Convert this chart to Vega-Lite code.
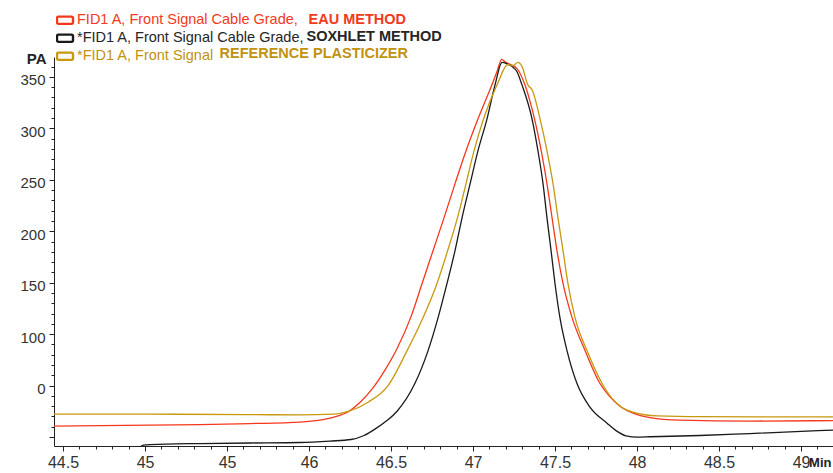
{
  "$schema": "https://vega.github.io/schema/vega-lite/v6.json",
  "width": 779,
  "height": 389,
  "autosize": "none",
  "padding": {"left": 54, "top": 57, "right": 0, "bottom": 27},
  "background": "white",
  "config": {
    "view": {"stroke": null},
    "font": "Liberation Sans",
    "axis": {"grid": false, "domainColor": "#222", "tickColor": "#222", "labelColor": "#333", "labelFont": "Liberation Sans", "titleFont": "Liberation Sans", "titleColor": "#222"},
    "legend": {"labelFont": "Liberation Sans", "labelFontSize": 14.5, "labelLimit": 400, "title": null}
  },
  "datasets": {
    "curves": [
      {"s": "EAU", "t": 44.445, "pa": 10.6},
      {"s": "EAU", "t": 44.726, "pa": 11.1},
      {"s": "EAU", "t": 45.03, "pa": 11.6},
      {"s": "EAU", "t": 45.335, "pa": 12.1},
      {"s": "EAU", "t": 45.64, "pa": 13.1},
      {"s": "EAU", "t": 45.945, "pa": 14.5},
      {"s": "EAU", "t": 46.067, "pa": 16.4},
      {"s": "EAU", "t": 46.152, "pa": 19.3},
      {"s": "EAU", "t": 46.244, "pa": 25.1},
      {"s": "EAU", "t": 46.31, "pa": 33.5},
      {"s": "EAU", "t": 46.384, "pa": 46.5},
      {"s": "EAU", "t": 46.463, "pa": 65},
      {"s": "EAU", "t": 46.537, "pa": 86},
      {"s": "EAU", "t": 46.622, "pa": 117},
      {"s": "EAU", "t": 46.689, "pa": 149},
      {"s": "EAU", "t": 46.756, "pa": 181},
      {"s": "EAU", "t": 46.823, "pa": 213},
      {"s": "EAU", "t": 46.89, "pa": 246},
      {"s": "EAU", "t": 46.957, "pa": 278},
      {"s": "EAU", "t": 47.03, "pa": 309},
      {"s": "EAU", "t": 47.122, "pa": 345},
      {"s": "EAU", "t": 47.146, "pa": 355},
      {"s": "EAU", "t": 47.175, "pa": 367},
      {"s": "EAU", "t": 47.195, "pa": 364.6},
      {"s": "EAU", "t": 47.268, "pa": 358},
      {"s": "EAU", "t": 47.317, "pa": 342},
      {"s": "EAU", "t": 47.348, "pa": 326},
      {"s": "EAU", "t": 47.396, "pa": 294},
      {"s": "EAU", "t": 47.451, "pa": 246},
      {"s": "EAU", "t": 47.482, "pa": 213},
      {"s": "EAU", "t": 47.512, "pa": 181},
      {"s": "EAU", "t": 47.549, "pa": 149},
      {"s": "EAU", "t": 47.604, "pa": 116},
      {"s": "EAU", "t": 47.683, "pa": 84},
      {"s": "EAU", "t": 47.774, "pa": 52},
      {"s": "EAU", "t": 47.83, "pa": 40},
      {"s": "EAU", "t": 47.896, "pa": 30},
      {"s": "EAU", "t": 47.976, "pa": 23.2},
      {"s": "EAU", "t": 48.079, "pa": 18.9},
      {"s": "EAU", "t": 48.262, "pa": 16.4},
      {"s": "EAU", "t": 48.689, "pa": 15.5},
      {"s": "EAU", "t": 49.195, "pa": 16.0},

      {"s": "SOX", "t": 44.9, "pa": -30},
      {"s": "SOX", "t": 44.99, "pa": -7.9},
      {"s": "SOX", "t": 45.03, "pa": -7.3},
      {"s": "SOX", "t": 45.335, "pa": -6.3},
      {"s": "SOX", "t": 45.64, "pa": -5.8},
      {"s": "SOX", "t": 45.945, "pa": -5.3},
      {"s": "SOX", "t": 46.128, "pa": -3.9},
      {"s": "SOX", "t": 46.256, "pa": -2.4},
      {"s": "SOX", "t": 46.335, "pa": 1.5},
      {"s": "SOX", "t": 46.402, "pa": 7.7},
      {"s": "SOX", "t": 46.475, "pa": 16},
      {"s": "SOX", "t": 46.537, "pa": 25.1},
      {"s": "SOX", "t": 46.646, "pa": 52.2},
      {"s": "SOX", "t": 46.726, "pa": 84},
      {"s": "SOX", "t": 46.787, "pa": 116},
      {"s": "SOX", "t": 46.841, "pa": 149},
      {"s": "SOX", "t": 46.89, "pa": 181},
      {"s": "SOX", "t": 46.933, "pa": 213},
      {"s": "SOX", "t": 46.982, "pa": 246},
      {"s": "SOX", "t": 47.03, "pa": 278},
      {"s": "SOX", "t": 47.085, "pa": 309},
      {"s": "SOX", "t": 47.134, "pa": 342},
      {"s": "SOX", "t": 47.177, "pa": 364},
      {"s": "SOX", "t": 47.207, "pa": 362.7},
      {"s": "SOX", "t": 47.238, "pa": 360},
      {"s": "SOX", "t": 47.268, "pa": 355},
      {"s": "SOX", "t": 47.299, "pa": 342},
      {"s": "SOX", "t": 47.36, "pa": 309},
      {"s": "SOX", "t": 47.396, "pa": 278},
      {"s": "SOX", "t": 47.427, "pa": 246},
      {"s": "SOX", "t": 47.451, "pa": 213},
      {"s": "SOX", "t": 47.476, "pa": 181},
      {"s": "SOX", "t": 47.5, "pa": 149},
      {"s": "SOX", "t": 47.53, "pa": 116},
      {"s": "SOX", "t": 47.573, "pa": 84},
      {"s": "SOX", "t": 47.634, "pa": 52},
      {"s": "SOX", "t": 47.713, "pa": 29},
      {"s": "SOX", "t": 47.817, "pa": 13.5},
      {"s": "SOX", "t": 47.87, "pa": 6.5},
      {"s": "SOX", "t": 47.933, "pa": 1.2},
      {"s": "SOX", "t": 48.0, "pa": 0},
      {"s": "SOX", "t": 48.079, "pa": 0.3},
      {"s": "SOX", "t": 48.384, "pa": 1.5},
      {"s": "SOX", "t": 48.689, "pa": 3.4},
      {"s": "SOX", "t": 49.195, "pa": 6.8},

      {"s": "REF", "t": 44.445, "pa": 22.2},
      {"s": "REF", "t": 45.03, "pa": 22.2},
      {"s": "REF", "t": 45.64, "pa": 21.8},
      {"s": "REF", "t": 45.945, "pa": 21.5},
      {"s": "REF", "t": 46.152, "pa": 22.2},
      {"s": "REF", "t": 46.244, "pa": 25.1},
      {"s": "REF", "t": 46.36, "pa": 33.8},
      {"s": "REF", "t": 46.482, "pa": 50},
      {"s": "REF", "t": 46.598, "pa": 84},
      {"s": "REF", "t": 46.695, "pa": 116},
      {"s": "REF", "t": 46.78, "pa": 149},
      {"s": "REF", "t": 46.845, "pa": 181},
      {"s": "REF", "t": 46.905, "pa": 213},
      {"s": "REF", "t": 46.957, "pa": 246},
      {"s": "REF", "t": 47.006, "pa": 278},
      {"s": "REF", "t": 47.064, "pa": 309},
      {"s": "REF", "t": 47.146, "pa": 342},
      {"s": "REF", "t": 47.213, "pa": 362},
      {"s": "REF", "t": 47.244, "pa": 361},
      {"s": "REF", "t": 47.274, "pa": 364},
      {"s": "REF", "t": 47.299, "pa": 360},
      {"s": "REF", "t": 47.335, "pa": 342},
      {"s": "REF", "t": 47.36, "pa": 337.5},
      {"s": "REF", "t": 47.409, "pa": 309},
      {"s": "REF", "t": 47.451, "pa": 278},
      {"s": "REF", "t": 47.488, "pa": 246},
      {"s": "REF", "t": 47.518, "pa": 213},
      {"s": "REF", "t": 47.549, "pa": 181},
      {"s": "REF", "t": 47.579, "pa": 149},
      {"s": "REF", "t": 47.622, "pa": 116},
      {"s": "REF", "t": 47.695, "pa": 84},
      {"s": "REF", "t": 47.787, "pa": 52},
      {"s": "REF", "t": 47.845, "pa": 38},
      {"s": "REF", "t": 47.906, "pa": 29},
      {"s": "REF", "t": 47.976, "pa": 24.2},
      {"s": "REF", "t": 48.122, "pa": 20.5},
      {"s": "REF", "t": 48.384, "pa": 19.8},
      {"s": "REF", "t": 49.195, "pa": 19.6}
    ]
  },
  "layer": [
    {
      "data": {"name": "curves"},
      "mark": {"type": "line", "strokeWidth": 1.3, "clip": true, "interpolate": "monotone"},
      "encoding": {
        "x": {
          "field": "t", "type": "quantitative",
          "scale": {"domain": [44.445, 49.195], "nice": false, "zero": false},
          "axis": {
            "values": [44.5,44.6,44.7,44.8,44.9,45.0,45.1,45.2,45.3,45.4,45.5,45.6,45.7,45.8,45.9,46.0,46.1,46.2,46.3,46.4,46.5,46.6,46.7,46.8,46.9,47.0,47.1,47.2,47.3,47.4,47.5,47.6,47.7,47.8,47.9,48.0,48.1,48.2,48.3,48.4,48.5,48.6,48.7,48.8,48.9,49.0,49.1],
            "format": "~g",
            "labelExpr": "abs(datum.value*2-round(datum.value*2))<0.001 ? (abs(datum.value-45.5)<0.001 ? '45' : datum.label) : ''",
            "labelOverlap": false,
            "labelFlush": false,
            "labelFontSize": 16,
            "labelPadding": 3,
            "tickSize": {"condition": {"test": "abs(datum.value*2-round(datum.value*2))<0.001", "value": 5}, "value": 3},
            "title": "Min",
            "titleFontSize": 13,
            "titleFontWeight": "bold",
            "titleAnchor": null,
            "titleAlign": "right",
            "titleBaseline": "middle",
            "titleX": 777,
            "titleY": 16
          }
        },
        "y": {
          "field": "pa", "type": "quantitative",
          "scale": {"domain": [-8.7, 369.3], "nice": false, "zero": false},
          "axis": {
            "values": [0,10,20,30,40,50,60,70,80,90,100,110,120,130,140,150,160,170,180,190,200,210,220,230,240,250,260,270,280,290,300,310,320,330,340,350,360],
            "labelExpr": "datum.value % 50 == 0 && datum.value > 0 ? (datum.value == 50 ? '0' : datum.label) : ''",
            "labelOverlap": false,
            "labelFlush": false,
            "labelFontSize": 15,
            "labelPadding": 4,
            "labelOffset": 3,
            "tickSize": {"condition": {"test": "datum.value % 50 == 0", "value": 5}, "value": 3},
            "title": "PA",
            "titleAngle": 0,
            "titleFontSize": 15,
            "titleFontWeight": "bold",
            "titleAnchor": null,
            "titleAlign": "right",
            "titleBaseline": "middle",
            "titleX": -8,
            "titleY": 1
          }
        },
        "color": {
          "field": "s", "type": "nominal",
          "scale": {"domain": ["EAU", "SOX", "REF"], "range": ["#f5381c", "#1a1a1a", "#c8980e"]},
          "legend": {
            "orient": "none",
            "legendX": 2,
            "legendY": -45.5,
            "symbolType": "M-0.85,-0.48H0.85A0.21,0.21 0 0 1 1.06,-0.27V0.27A0.21,0.21 0 0 1 0.85,0.48H-0.85A0.21,0.21 0 0 1 -1.06,0.27V-0.27A0.21,0.21 0 0 1 -0.85,-0.48Z",
            "symbolSize": 228,
            "symbolStrokeWidth": 2.4,
            "symbolFillColor": "transparent",
            "labelOffset": 3,
            "rowPadding": 0,
            "clipHeight": 17.5,
            "labelExpr": "datum.value == 'EAU' ? 'FID1 A, Front Signal Cable Grade,' : datum.value == 'SOX' ? '*FID1 A, Front Signal Cable Grade,' : '*FID1 A, Front Signal'",
            "encode": {
              "labels": {"update": {"fill": {"signal": "datum.value == 'EAU' ? '#f03a1c' : datum.value == 'SOX' ? '#262626' : '#c0920f'"}}}
            }
          }
        }
      }
    },
    {
      "data": {"values": [{"m": "EAU METHOD"}]},
      "mark": {"type": "point", "opacity": 0},
      "encoding": {
        "shape": {
          "field": "m", "type": "nominal",
          "legend": {
            "orient": "none", "legendX": 240, "legendY": -44.5,
            "symbolSize": 0, "symbolOpacity": 0, "labelOffset": 0,
            "labelFontWeight": "bold", "labelColor": "#f03a1c"
          }
        }
      }
    },
    {
      "data": {"values": [{"m2": "SOXHLET METHOD"}]},
      "mark": {"type": "point", "opacity": 0},
      "encoding": {
        "fill": {
          "field": "m2", "type": "nominal",
          "legend": {
            "orient": "none", "legendX": 238, "legendY": -27.5,
            "symbolSize": 0, "symbolOpacity": 0, "labelOffset": 0,
            "labelFontWeight": "bold", "labelColor": "#262626"
          }
        }
      }
    },
    {
      "data": {"values": [{"m3": "REFERENCE PLASTICIZER"}]},
      "mark": {"type": "point", "opacity": 0},
      "encoding": {
        "stroke": {
          "field": "m3", "type": "nominal",
          "legend": {
            "orient": "none", "legendX": 151, "legendY": -10,
            "symbolSize": 0, "symbolOpacity": 0, "labelOffset": 0,
            "labelFontWeight": "bold", "labelColor": "#c0920f"
          }
        }
      }
    }
  ]
}
